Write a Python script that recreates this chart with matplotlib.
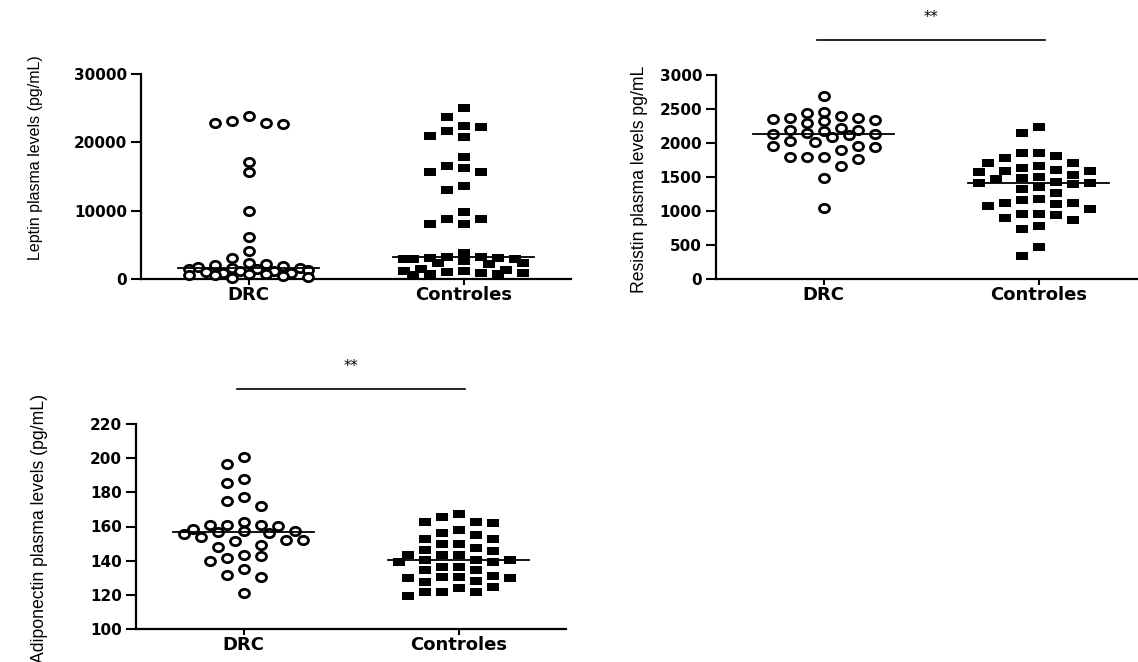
import numpy as np
import matplotlib
matplotlib.use("Agg")
import matplotlib.pyplot as plt
from matplotlib.path import Path
import matplotlib.transforms as mtransforms

W, H = 1138, 662

groups = ["DRC", "Controles"]

# Leptin (pg/mL)
leptin_drc = [23800, 22800, 22700, 22900, 23100, 17100, 15600, 10000, 6100, 4100, 3100,
              2400, 2200, 2050, 1900, 1700, 1560, 1560, 1500, 1450, 1300, 1200, 1100,
              1000, 900, 850, 750, 700, 600, 550, 400, 300, 100]
leptin_ctrl = [25000, 23650, 22400, 21700, 20750, 20950, 22200, 17900, 16300, 15700, 15700,
               16550, 13600, 13050, 8750, 8050, 9850, 8050, 8750, 3850,
               3200, 3150, 3100, 3050, 3000, 2950, 2900, 2700, 2400, 2300, 2200,
               1500, 1300, 1200, 1100, 1000, 900, 850, 800, 700, 600]

# Resistin (pg/mL)
resistin_drc = [2690, 2460, 2400, 2435, 2355, 2340, 2330, 2365, 2362, 2300, 2215, 2190,
                2192, 2130, 2083, 2142, 2181, 2118, 2132, 2020, 2034, 1956, 1897, 1955,
                1946, 1799, 1765, 1789, 1798, 1662, 1481, 1049]
resistin_ctrl = [2240, 2152, 1848, 1775, 1814, 1847, 1711, 1667, 1603, 1593, 1578, 1592,
                 1628, 1701, 1529, 1505, 1481, 1431, 1416, 1358, 1397, 1415, 1471, 1323,
                 1260, 1113, 1079, 1172, 1162, 1122, 1029, 1098, 892, 956, 955, 941, 868,
                 784, 735, 475, 343]

# Adiponectin (pg/mL)
adipo_drc = [200.5, 196.6, 185.7, 187.6, 175.1, 172.0, 177.1, 160.9, 158.4, 160.8, 160.9,
             162.8, 160.5, 157.5, 156.0, 157.0, 157.4, 155.6, 153.7, 152.1, 149.2, 148.2,
             151.7, 152.0, 142.7, 140.0, 141.4, 143.3, 131.6, 130.3, 135.0, 121.3]
adipo_ctrl = [167.3, 165.4, 162.8, 161.9, 162.7, 158.0, 156.4, 155.0, 152.7, 152.5, 149.8,
              147.2, 149.7, 145.8, 143.3, 143.2, 146.2, 143.4, 140.4, 139.4, 140.3, 139.3,
              140.5, 136.5, 134.5, 134.4, 136.4, 130.6, 130.2, 128.3, 127.7, 129.7, 130.1,
              131.0, 124.8, 123.8, 121.8, 119.3, 121.7, 121.9]

# marker shapes (the source image is slightly stretched horizontally)
circ = Path.unit_circle()
ring = Path(circ.vertices * [1.2, 1.0], circ.codes)
rect = Path([(-0.65, -0.5), (0.65, -0.5), (0.65, 0.5), (-0.65, 0.5), (-0.65, -0.5)],
            [Path.MOVETO, Path.LINETO, Path.LINETO, Path.LINETO, Path.CLOSEPOLY])


def px_rect(x0, ytop, w, h):
    return [x0 / W, 1 - (ytop + h) / H, w / W, h / H]


def swarm_x(ax, center, values, col=17.0, w=12.0, h=10.0, max_k=3):
    # lay points out in columns (GraphPad style) in display space
    vals = np.asarray(values, dtype=float)
    pts = ax.transData.transform(np.column_stack([np.full(len(vals), center), vals]))
    cx, ys = pts[0, 0], pts[:, 1]
    cands = [0]
    for k in range(1, max_k + 1):
        cands += [-k, k]
    halfs = [s * (k - 0.5) for k in range(1, max_k + 2) for s in (-1, 1)]
    placed = []
    xs = np.zeros(len(vals))
    for i in np.argsort(-vals, kind="stable"):
        y = ys[i]
        best = None
        for c in cands + halfs:
            x = cx + c * col
            if all(abs(x - px) >= w or abs(y - py) >= h for px, py in placed):
                best = x
                break
        if best is None:
            def cost(c):
                x = cx + c * col
                return sum(max(0, w - abs(x - px)) * max(0, h - abs(y - py)) for px, py in placed)
            best = cx + min(cands + halfs, key=cost) * col
        placed.append((best, y))
        xs[i] = best
    return ax.transData.inverted().transform(np.column_stack([xs, ys]))[:, 0]


def panel(fig, rect_px, drc, ctrl, ylim, yticks, ylabel, label_xy, label_size, signif=False):
    ax = fig.add_axes(px_rect(*rect_px))
    ax.set_xlim(-0.5, 1.5)
    ax.set_ylim(*ylim)
    ax.set_yticks(yticks)
    ax.set_xticks([0, 1])
    ax.set_xticklabels(groups, fontsize=13, fontweight="bold", family="DejaVu Sans")
    for lab in ax.get_yticklabels():
        lab.set_fontweight("bold")
        lab.set_fontsize(11)
        lab.set_family("DejaVu Sans")
    for s in ["top", "right"]:
        ax.spines[s].set_visible(False)
    for s in ["left", "bottom"]:
        ax.spines[s].set_linewidth(1.6)
    ax.tick_params(axis="y", length=7, width=1.5, pad=3)
    ax.tick_params(axis="x", length=4, width=1.5, pad=1)

    x0 = swarm_x(ax, 0, drc)
    x1 = swarm_x(ax, 1, ctrl)
    ax.scatter(x0, drc, marker=ring, s=7.2 ** 2, facecolors="white", edgecolors="black",
               linewidths=2.0, clip_on=False, zorder=3)
    ax.scatter(x1, ctrl, marker=rect, s=8.2 ** 2, color="black", linewidths=0,
               clip_on=False, zorder=3)
    for i, vals in enumerate([drc, ctrl]):
        m = np.median(vals)
        ax.plot([i - 0.33, i + 0.33], [m, m], color="black", lw=1.3, zorder=4, clip_on=False)

    if signif:
        tr = mtransforms.blended_transform_factory(ax.transData, ax.transAxes)
        ax.plot([-0.03, 1.03], [1.17, 1.17], color="black", lw=1.2, transform=tr, clip_on=False)
        ax.text(0.5, 1.28, "**", transform=tr, ha="center", va="center", fontsize=10.5)

    fig.text(label_xy[0] / W, 1 - label_xy[1] / H, ylabel, rotation=90, ha="center",
             va="center", fontsize=label_size, family="Liberation Sans")
    return ax


fig = plt.figure(figsize=(W / 100, H / 100), dpi=100)

panel(fig, (141, 74, 430, 205), leptin_drc, leptin_ctrl, (0, 30000),
      [0, 10000, 20000, 30000], "Leptin plasma levels (pg/mL)", (36, 158), 11.5)
panel(fig, (716, 75, 430, 204), resistin_drc, resistin_ctrl, (0, 3000),
      np.arange(0, 3001, 500), "Resistin plasma levels pg/mL", (640, 179), 12.7, signif=True)
panel(fig, (136, 424, 430, 205), adipo_drc, adipo_ctrl, (100, 220),
      np.arange(100, 221, 20), "Adiponectin plasma levels (pg/mL)", (40, 528), 12.7, signif=True)

fig.savefig("out.png", dpi=100)
